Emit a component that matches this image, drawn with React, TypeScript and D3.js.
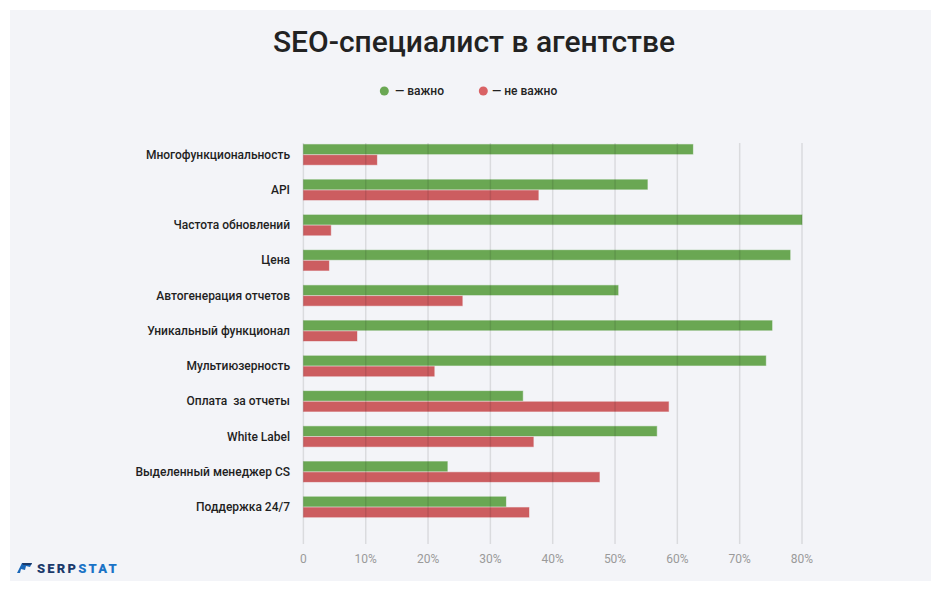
import React from "react";
import * as d3 from "d3";

const categories = [
  "Многофункциональность",
  "API",
  "Частота обновлений",
  "Цена",
  "Автогенерация отчетов",
  "Уникальный функционал",
  "Мультиюзерность",
  "Оплата  за отчеты",
  "White Label",
  "Выделенный менеджер CS",
  "Поддержка 24/7",
];
const important = [62.5, 55.2, 80.0, 78.1, 50.5, 75.2, 74.2, 35.2, 56.7, 23.1, 32.5];
const notImportant = [11.8, 37.7, 4.4, 4.1, 25.5, 8.6, 21.0, 58.6, 36.9, 47.5, 36.2];
const tickValues = [0, 10, 20, 30, 40, 50, 60, 70, 80];
const tickLabels = ["0", "10%", "20%", "30%", "40%", "50%", "60%", "70%", "80%"];
const seriesNames = ["— важно", "— не важно"];

const GREEN = "#6aa753";
const RED = "#cc5d60";
const FONT = "Roboto, 'Noto Sans', sans-serif";

export default function App() {
  const W = 941;
  const H = 591;
  const x = d3.scaleLinear().domain([0, 80]).range([303.4, 802]);
  const y = d3.scaleBand<string>().domain(categories).range([137, 524.6]).padding(0);
  const step = y.step();
  const barH = 9.7;

  return (
    <svg
      width={W}
      height={H}
      style={{ position: "absolute", left: 0, top: 0 }}
      xmlns="http://www.w3.org/2000/svg"
    >
      <rect x={0} y={0} width={W} height={H} fill="#ffffff" />
      <rect x={10} y={10} width={921} height={571} fill="#f3f4f8" />
      <text
        x={474}
        y={52}
        textAnchor="middle"
        fontFamily={FONT}
        fontSize={30}
        fontWeight={500}
        fill="#222222"
      >
        SEO-специалист в агентстве
      </text>

      {/* legend */}
      <g fontFamily={FONT} fontSize={12} fontWeight={500} fill="#222">
        <circle cx={384.3} cy={91} r={4.5} fill={GREEN} />
        <text x={395} y={91} dominantBaseline="central">{seriesNames[0]}</text>
        <circle cx={483.3} cy={91} r={4.5} fill="#d96265" />
        <text x={492} y={91} dominantBaseline="central">{seriesNames[1]}</text>
      </g>

      {/* bars */}
      {categories.map((c, i) => {
        const cy = (y(c) as number) + step / 2;
        return (
          <g key={c}>
            <rect
              x={x(0)}
              y={cy - barH - 0.5}
              width={x(important[i]) - x(0)}
              height={barH}
              fill={GREEN}
              stroke={GREEN}
              strokeOpacity={0.4}
              strokeWidth={1}
            />
            <rect
              x={x(0)}
              y={cy + 0.5}
              width={x(notImportant[i]) - x(0)}
              height={barH}
              fill={RED}
              stroke={RED}
              strokeOpacity={0.4}
              strokeWidth={1}
            />
            <text
              x={290}
              y={cy}
              textAnchor="end"
              dominantBaseline="central"
              fontFamily={FONT}
              fontSize={12}
              fontWeight={500}
              fill="#1f1f1f"
              style={{ whiteSpace: "pre" }}
            >
              {c}
            </text>
          </g>
        );
      })}

      {/* gridlines over bars */}
      {tickValues.map((t, i) => (
        <g key={t}>
          <line
            x1={x(t)}
            x2={x(t)}
            y1={143}
            y2={544}
            stroke="#000"
            strokeOpacity={0.1}
            strokeWidth={1.5}
          />
          <text
            x={x(t)}
            y={559}
            textAnchor="middle"
            dominantBaseline="central"
            fontFamily={FONT}
            fontSize={12}
            fill="#9a9a9a"
          >
            {tickLabels[i]}
          </text>
        </g>
      ))}

      {/* logo */}
      <g>
        <path d="M17,573 L22,563 L32,563 L30,567 L26,566 L25,570 L21,569 L20,573 Z" fill="#1a67b8" />
        <path d="M22,563 L32,563 L31,565 L23,565 Z" fill="#1b3a6b" />
        <text x={37} y={568} dominantBaseline="central" fontFamily={FONT} fontSize={13} fontWeight={900} letterSpacing={2.2}>
          <tspan fill="#1b3a6b">SERP</tspan>
          <tspan fill="#1a73c6">STAT</tspan>
        </text>
      </g>
    </svg>
  );
}
